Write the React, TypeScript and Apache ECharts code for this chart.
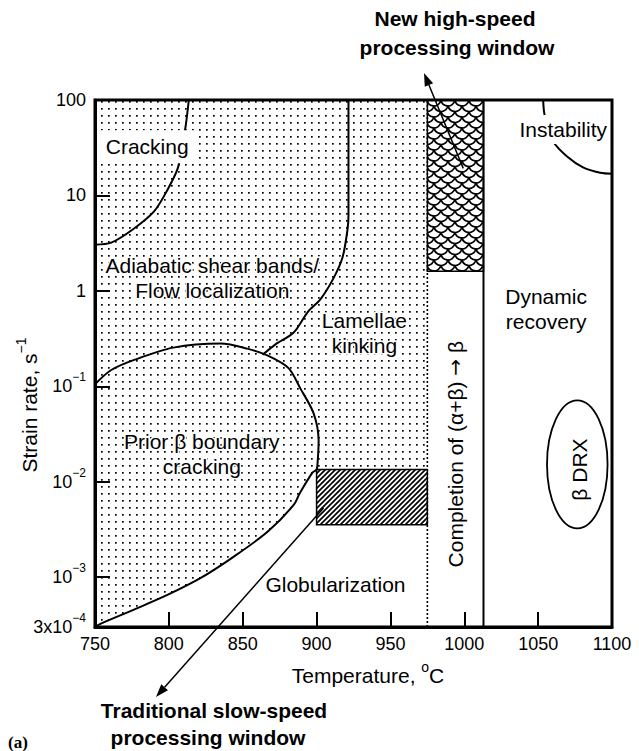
import React, { useEffect, useRef } from "react";
import * as echarts from "echarts";

const FONT = '"Liberation Sans", Arial, Helvetica, sans-serif';

// ---- axes ----
const xMin = 750;
const xMax = 1100;
const xStep = 50;
const yMin = 3e-4;
const yMax = 100;
const yTickValues = [3e-4, 1e-3, 1e-2, 1e-1, 1, 10, 100];
const yTickLabels = [
  "{b|3x10}{sup|−4}",
  "{b|10}{sup|−3}",
  "{b|10}{sup|−2}",
  "{b|10}{sup|−1}",
  "{b|1}",
  "{b|10}",
  "{b|100}",
];

// ---- region boundaries: [temperature °C, strain rate s^-1] ----
const crackingCurve = [
  [750, 3.05], [761, 3.2], [776, 4.45], [790, 6.8], [799, 11.4],
  [806, 19.2], [809, 33], [811.5, 55], [813.5, 100],
];
const lamellaeCurve = [
  [921.6, 100], [921.6, 6.2], [921, 4.45], [917.6, 2.25], [911.5, 1.36],
  [902.7, 0.82], [894, 0.6], [884.5, 0.366], [872, 0.273], [863.5, 0.214],
];
const priorBetaUpper = [
  [750, 0.105], [761, 0.148], [777, 0.19], [803, 0.254], [835, 0.28],
  [853, 0.248], [867, 0.209], [881, 0.155], [889, 0.095], [898, 0.052],
  [901.4, 0.0267], [900.7, 0.0159],
];
const priorBetaLower = [
  [900, 0.0134], [897.3, 0.0125], [888.5, 0.0075], [884.5, 0.0057],
  [867, 0.003], [844, 0.00164], [821.6, 0.00098], [799, 0.00065],
  [776, 0.000454], [754, 0.000326], [750, 0.0003],
];
const instabilityCurve = [
  [1053.4, 100], [1054, 75], [1055.5, 58], [1060, 37], [1069.6, 25.6],
  [1080.4, 19.7], [1092, 17.3], [1100, 16.9],
];
const slowWindowTemp = [900, 975];
const slowWindowRate = [0.00354, 0.0134];
const fastWindowTemp = [975, 1013];
const fastWindowRate = [1.6, 100];
const alphaBetaStartTemp = 975;
const betaTransusTemp = 1013;
const drxTemp = [1056, 1097];
const drxRate = [0.00324, 0.071];

// ---- label anchors (data coords) ----
const regionLabels = [
  { text: "Cracking", temp: 785, rate: 32.4, box: true },
  { text: "Adiabatic shear bands/\nFlow localization", temp: 829.4, rate: 1.36 },
  { text: "Lamellae\nkinking", temp: 932.4, rate: 0.362 },
  { text: "Prior β boundary\ncracking", temp: 822.3, rate: 0.0194 },
  { text: "Globularization", temp: 912.8, rate: 0.00083 },
  { text: "Dynamic\nrecovery", temp: 1055.4, rate: 0.651 },
  { text: "Instability", temp: 1067, rate: 49, box: true },
];
const rotatedLabels = [
  { text: "Completion of (α+β) {arr|→} β", temp: 994, rate: 0.0194 },
  { text: "β DRX", temp: 1078, rate: 0.0134 },
];
const fastArrowTail = [999.3, 19.2];
const slowArrowTail = [904.7, 0.0053];

function makePattern(w: number, h: number, draw: (ctx: CanvasRenderingContext2D) => void) {
  const c = document.createElement("canvas");
  c.width = w;
  c.height = h;
  const ctx = c.getContext("2d");
  if (ctx) draw(ctx);
  return { image: c.toDataURL(), repeat: "repeat", imageWidth: w, imageHeight: h };
}

export default function App() {
  const ref = useRef<HTMLDivElement>(null);

  useEffect(() => {
    document.body.style.margin = "0";
    const chart = echarts.init(ref.current!, undefined, { renderer: "svg" });

    const dotFill = makePattern(7, 7, (ctx) => {
      ctx.fillStyle = "#000";
      ctx.fillRect(3, 3, 1.7, 1.7);
    });
    const hatchFill = makePattern(5, 5, (ctx) => {
      ctx.fillStyle = "#fff";
      ctx.fillRect(0, 0, 5, 5);
      ctx.strokeStyle = "#000";
      ctx.lineWidth = 1.7;
      ctx.beginPath();
      ctx.moveTo(0, 5); ctx.lineTo(5, 0);
      ctx.moveTo(-1, 1); ctx.lineTo(1, -1);
      ctx.moveTo(4, 6); ctx.lineTo(6, 4);
      ctx.stroke();
    });
    const scaleFill = makePattern(14, 11, (ctx) => {
      ctx.fillStyle = "#fff";
      ctx.fillRect(0, 0, 14, 11);
      ctx.strokeStyle = "#000";
      ctx.lineWidth = 1.7;
      const centers = [[0, 0], [14, 0], [7, 5.5], [0, 11], [14, 11], [7, -5.5], [7, 16.5], [0, -11], [14, -11]];
      centers.forEach(([cx, cy]) => {
        ctx.beginPath();
        ctx.arc(cx, cy, 7, 0.15, Math.PI - 0.15);
        ctx.stroke();
      });
    });

    const dottedRegion = [
      [xMin, yMax],
      [alphaBetaStartTemp, yMax],
      [alphaBetaStartTemp, slowWindowRate[1]],
      ...priorBetaLower,
    ];
    const slowRect = [
      [slowWindowTemp[0], slowWindowRate[0]],
      [slowWindowTemp[1], slowWindowRate[0]],
      [slowWindowTemp[1], slowWindowRate[1]],
      [slowWindowTemp[0], slowWindowRate[1]],
    ];
    const fastRect = [
      [fastWindowTemp[0], fastWindowRate[0]],
      [fastWindowTemp[1], fastWindowRate[0]],
      [fastWindowTemp[1], fastWindowRate[1]],
      [fastWindowTemp[0], fastWindowRate[1]],
    ];

    const polygon = (pts: number[][], fill: any, stroke: string, z: number) => ({
      type: "custom",
      coordinateSystem: "cartesian2d",
      silent: true,
      clip: true,
      z,
      data: [pts[0]],
      encode: { x: 0, y: 1 },
      renderItem: (_p: any, api: any) => ({
        type: "polygon",
        shape: { points: pts.map((p) => api.coord(p)) },
        style: { fill, stroke, lineWidth: 1.5 },
      }),
    });

    const curve = (data: number[][], lineStyle: any = {}, smooth: number | boolean = 0.3) => ({
      type: "line",
      data,
      symbol: "none",
      smooth,
      silent: true,
      clip: true,
      z: 4,
      lineStyle: { color: "#000", width: 2, ...lineStyle },
      emphasis: { disabled: true },
    });

    const option: any = {
      animation: false,
      backgroundColor: "#fff",
      grid: {
        left: 95,
        top: 100,
        right: 27,
        bottom: 124,
        show: true,
        borderColor: "#000",
        borderWidth: 3,
        backgroundColor: "transparent",
        containLabel: false,
        outerBoundsMode: "none",
        z: 10,
      },
      xAxis: {
        type: "value",
        min: xMin,
        max: xMax,
        interval: xStep,
        z: 10,
        axisLine: { show: true, onZero: false, lineStyle: { color: "#000", width: 3 } },
        axisTick: { show: true, inside: true, length: 15, lineStyle: { color: "#000", width: 2 } },
        axisLabel: {
          color: "#000",
          fontSize: 18,
          fontFamily: FONT,
          margin: 8,
          showMinLabel: true,
          showMaxLabel: true,
          formatter: (v: number) => String(v),
        },
        splitLine: { show: false },
      },
      yAxis: {
        type: "log",
        logBase: 10,
        min: yMin,
        max: yMax,
        z: 10,
        axisLine: { show: true, onZero: false, lineStyle: { color: "#000", width: 3 } },
        axisTick: { show: true, inside: true, length: 15, lineStyle: { color: "#000", width: 2 } },
        minorTick: { show: false },
        splitLine: { show: false },
        axisLabel: {
          margin: 9,
          showMinLabel: true,
          showMaxLabel: true,
          formatter: (v: number) => {
            const lv = Math.log10(v);
            let best = 0;
            yTickValues.forEach((t, i) => {
              if (Math.abs(Math.log10(t) - lv) < Math.abs(Math.log10(yTickValues[best]) - lv)) best = i;
            });
            return yTickLabels[best];
          },
          rich: {
            b: { fontSize: 18, fontFamily: FONT, color: "#000", lineHeight: 30 },
            sup: { fontSize: 12, fontFamily: FONT, color: "#000", lineHeight: 12, verticalAlign: "top" },
          },
        },
      },
      series: [
        polygon(dottedRegion, dotFill, "none", 1),
        polygon(slowRect, hatchFill, "#000", 2),
        polygon(fastRect, scaleFill, "#000", 2),
        {
          type: "custom",
          coordinateSystem: "cartesian2d",
          silent: true,
          clip: true,
          z: 4,
          data: [[drxTemp[0], drxRate[0]]],
          encode: { x: 0, y: 1 },
          renderItem: (_p: any, api: any) => {
            const a = api.coord([drxTemp[0], drxRate[1]]);
            const b = api.coord([drxTemp[1], drxRate[0]]);
            return {
              type: "ellipse",
              shape: {
                cx: (a[0] + b[0]) / 2,
                cy: (a[1] + b[1]) / 2,
                rx: (b[0] - a[0]) / 2,
                ry: (b[1] - a[1]) / 2,
              },
              style: { fill: "none", stroke: "#000", lineWidth: 1.8 },
            };
          },
        },
        curve(crackingCurve),
        curve(lamellaeCurve),
        curve(priorBetaUpper.concat(priorBetaLower)),
        curve(instabilityCurve),
        curve([[alphaBetaStartTemp, yMin], [alphaBetaStartTemp, yMax]], { type: [2, 2], width: 1.6 }, false),
        curve([[betaTransusTemp, yMin], [betaTransusTemp, yMax]], { width: 2 }, false),
      ],
    };

    chart.setOption(option);

    const px = (p: number[]) => chart.convertToPixel({ gridIndex: 0 }, p) as number[];

    const arrow = (from: number[], to: number[]) => {
      const dx = to[0] - from[0];
      const dy = to[1] - from[1];
      const L = Math.hypot(dx, dy);
      const ux = dx / L;
      const uy = dy / L;
      const hl = 13;
      const hw = 4.5;
      const bx = to[0] - ux * hl;
      const by = to[1] - uy * hl;
      return [
        {
          type: "line",
          z: 100,
          silent: true,
          shape: { x1: from[0], y1: from[1], x2: bx, y2: by },
          style: { stroke: "#000", lineWidth: 1.5 },
        },
        {
          type: "polygon",
          z: 100,
          silent: true,
          shape: { points: [to, [bx - uy * hw, by + ux * hw], [bx + uy * hw, by - ux * hw]] },
          style: { fill: "#000" },
        },
      ];
    };

    const graphic: any[] = [];
    regionLabels.forEach((l) => {
      const [x, y] = px([l.temp, l.rate]);
      graphic.push({
        type: "text",
        x,
        y,
        z: 100,
        silent: true,
        style: {
          text: l.text,
          fontSize: 21,
          fontFamily: FONT,
          fill: "#000",
          align: "center",
          verticalAlign: "middle",
          lineHeight: 25,
          ...(l.box
            ? { backgroundColor: "#fff", padding: l.text === "Cracking" ? [4, 6, 4, 7] : [2, 2, 2, 2] }
            : { stroke: "#fff", lineWidth: 3, strokeFirst: true }),
        },
      });
    });
    rotatedLabels.forEach((l) => {
      const [x, y] = px([l.temp, l.rate]);
      graphic.push({
        type: "text",
        x,
        y,
        rotation: Math.PI / 2,
        z: 100,
        silent: true,
        style: {
          text: l.text,
          fontSize: 21,
          fontFamily: FONT,
          fill: "#000",
          align: "center",
          verticalAlign: "middle",
          rich: { arr: { fontSize: 20, fontFamily: '"DejaVu Sans", sans-serif', fill: "#000" } },
        },
      });
    });

    // axis titles
    graphic.push({
      type: "text",
      x: 368,
      y: 675,
      z: 100,
      silent: true,
      style: {
        text: "Temperature, {sup|o}C",
        fontSize: 21,
        fontFamily: FONT,
        fill: "#000",
        align: "center",
        verticalAlign: "middle",
        lineHeight: 30,
        rich: { sup: { fontSize: 14, fontFamily: FONT, fill: "#000", verticalAlign: "top", lineHeight: 14 } },
      },
    });
    graphic.push({
      type: "text",
      x: 29,
      y: 405,
      rotation: Math.PI / 2,
      z: 100,
      silent: true,
      style: {
        text: "Strain rate, s{sup|−1}",
        fontSize: 21,
        fontFamily: FONT,
        fill: "#000",
        align: "center",
        verticalAlign: "middle",
        lineHeight: 30,
        rich: { sup: { fontSize: 14, fontFamily: FONT, fill: "#000", verticalAlign: "top", lineHeight: 14 } },
      },
    });

    // annotations
    const boldText = (text: string, x: number, y: number) => ({
      type: "text",
      x,
      y,
      z: 100,
      silent: true,
      style: {
        text,
        fontSize: 21,
        fontWeight: "bold",
        fontFamily: FONT,
        fill: "#000",
        align: "center",
        verticalAlign: "middle",
      },
    });
    graphic.push(boldText("New high-speed", 455, 18));
    graphic.push(boldText("processing window", 457, 47));
    graphic.push(boldText("Traditional slow-speed", 214, 710));
    graphic.push(boldText("processing window", 208, 737));
    graphic.push({
      type: "text",
      x: 8,
      y: 742,
      z: 100,
      silent: true,
      style: {
        text: "(a)",
        fontSize: 17,
        fontWeight: "bold",
        fontFamily: '"Liberation Serif", "Times New Roman", serif',
        fill: "#000",
        align: "left",
        verticalAlign: "middle",
      },
    });
    graphic.push(...arrow(px(fastArrowTail), [424, 73]));
    graphic.push(...arrow(px(slowArrowTail), [156, 697]));

    chart.setOption({ graphic });

    return () => chart.dispose();
  }, []);

  return <div ref={ref} style={{ width: 639, height: 751 }} />;
}
